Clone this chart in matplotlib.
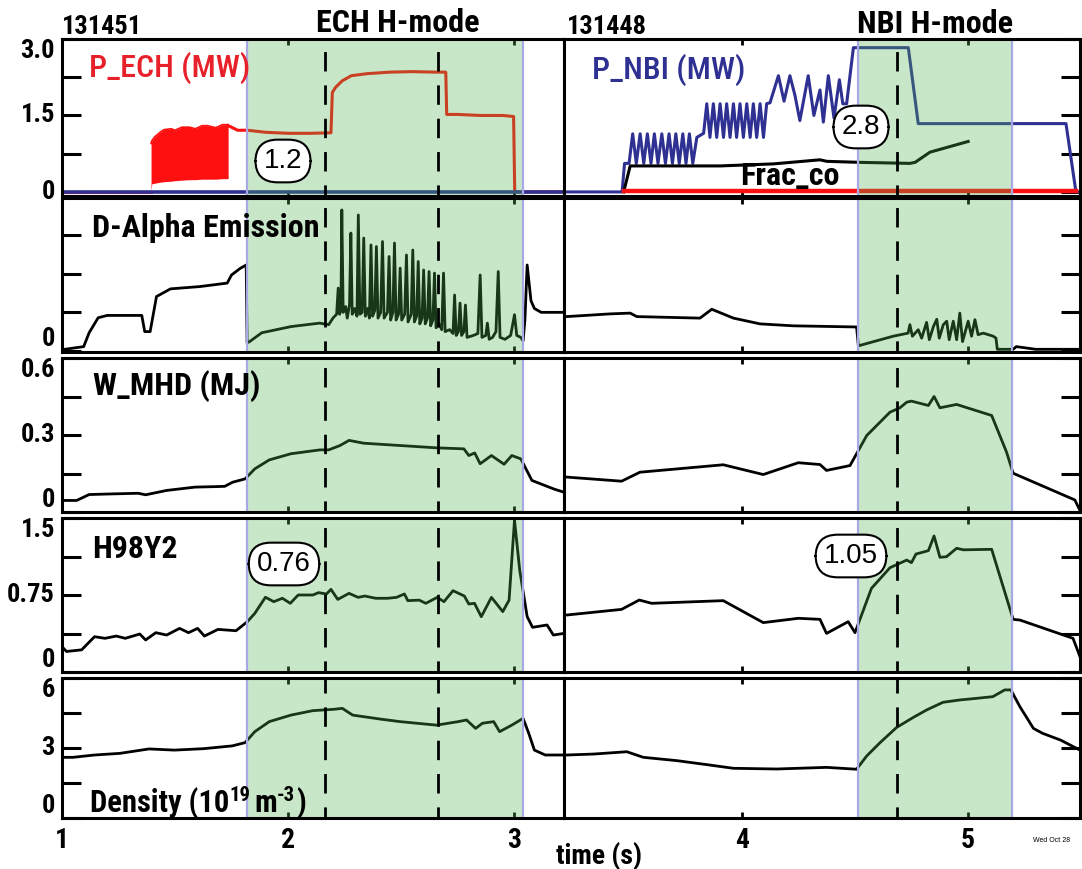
import matplotlib
matplotlib.use("Agg")
import matplotlib.pyplot as plt
from matplotlib.transforms import blended_transform_factory

W, H = 1082, 869
NARROW = ["Liberation Sans Narrow", "Roboto Condensed", "Archivo Narrow", "PT Sans Narrow",
          "Liberation Sans"]
PLAIN = ["Liberation Sans", "DejaVu Sans"]

RED = "#ff1010"
NAVY = "#2e3192"
SHADE = (80 / 255, 175 / 255, 80 / 255)
SHADE_EDGE = "#a9a9e6"

# time windows (s) for the two shots
XLIM_L = (1.0, 3.221)
XLIM_R = (3.212, 5.496)
HMODE_L = (1.819, 3.040)
HMODE_R = (4.513, 5.195)
DASH_L = [2.164, 2.664]
DASH_R = [4.686]

# ---- shot 131451 (ECH) ----
ech_off_t = [1.000, 1.394]
ech_off_v = [0.0, 0.0]
ech_mod_t = [1.394, 1.397, 1.410, 1.434, 1.450, 1.483, 1.500, 1.530, 1.563, 1.590, 1.620, 1.644, 1.680, 1.710, 1.735]
ech_mod_hi = [0.95, 1.00, 1.08, 1.17, 1.22, 1.24, 1.21, 1.27, 1.27, 1.24, 1.30, 1.30, 1.26, 1.32, 1.32]
ech_mod_lo = [0.00, 0.16, 0.17, 0.19, 0.20, 0.21, 0.22, 0.23, 0.24, 0.24, 0.25, 0.25, 0.25, 0.26, 0.26]
ech_t = [1.735, 1.745, 1.777, 1.820, 1.900, 2.000, 2.100, 2.190, 2.196, 2.210, 2.240, 2.280, 2.350,
         2.450, 2.550, 2.650, 2.698, 2.702, 2.750, 2.850, 2.950, 2.998, 3.003, 3.221]
ech_v = [1.30, 1.28, 1.21, 1.21, 1.17, 1.15, 1.15, 1.16, 1.95, 2.05, 2.18, 2.28, 2.32,
         2.35, 2.36, 2.35, 2.35, 1.52, 1.52, 1.50, 1.50, 1.48, 0.0, 0.0]
nbi_l_t = [1.000, 3.221]
nbi_l_v = [0.0, 0.0]

dalpha_l_t = [1.000, 1.096, 1.120, 1.160, 1.200, 1.353, 1.366, 1.390, 1.418, 1.480, 1.611, 1.731,
              1.750, 1.788, 1.815, 1.819, 1.830, 1.884, 2.013, 2.140, 2.180, 2.200,
              2.215, 2.222, 2.228, 2.234, 2.238, 2.244, 2.255, 2.262, 2.272, 2.278, 2.284,
              2.295, 2.305, 2.311, 2.318, 2.328, 2.335, 2.342, 2.352, 2.360, 2.367, 2.374,
              2.384, 2.391, 2.398, 2.410, 2.418, 2.425, 2.440, 2.447, 2.454, 2.464, 2.471,
              2.478, 2.489, 2.496, 2.503, 2.516, 2.524, 2.531, 2.545, 2.552, 2.559, 2.569,
              2.576, 2.583, 2.593, 2.600, 2.607, 2.617, 2.624, 2.631, 2.641, 2.648, 2.655,
              2.668, 2.680, 2.688, 2.695, 2.715, 2.730, 2.737, 2.744, 2.754, 2.761, 2.768,
              2.778, 2.785, 2.792, 2.820, 2.840, 2.850, 2.858, 2.875, 2.882, 2.890, 2.905,
              2.920, 2.930, 2.938, 2.960, 2.985, 3.002, 3.012, 3.030, 3.040, 3.048, 3.058,
              3.075, 3.090, 3.120, 3.221]
dalpha_l_v = [0.03, 0.11, 0.47, 0.86, 0.92, 0.92, 0.50, 0.50, 1.41, 1.61, 1.67, 1.76,
              1.97, 2.14, 2.23, 0.21, 0.24, 0.47, 0.63, 0.72, 0.68, 0.86,
              0.95, 1.63, 0.95, 1.05, 3.66, 1.00, 1.15, 0.85, 1.20, 3.06, 0.95,
              1.10, 0.90, 3.53, 0.95, 1.00, 2.93, 0.90, 1.10, 0.85, 2.75, 0.90,
              1.05, 2.71, 0.85, 1.00, 2.84, 0.85, 1.00, 2.45, 0.80, 1.00, 2.80,
              0.80, 0.95, 2.15, 0.80, 0.95, 2.49, 0.75, 0.95, 2.62, 0.75, 0.90,
              2.32, 0.70, 0.85, 2.10, 0.70, 0.85, 2.06, 0.65, 0.80, 2.02, 0.60,
              0.70, 0.55, 2.02, 0.50, 0.55, 0.45, 1.45, 0.40, 0.50, 1.24, 0.40,
              0.50, 1.19, 0.35, 0.40, 0.45, 1.97, 0.35, 0.40, 0.72, 0.30, 0.35,
              0.50, 2.06, 0.35, 0.30, 0.40, 0.94, 0.40, 0.35, 0.26, 0.80, 2.23,
              1.30, 1.10, 1.00, 1.00]

wmhd_l_t = [1.000, 1.065, 1.120, 1.200, 1.337, 1.370, 1.463, 1.589, 1.686, 1.720, 1.755, 1.810,
            1.853, 1.917, 2.013, 2.141, 2.180, 2.230, 2.270, 2.335, 2.496, 2.657, 2.778, 2.800,
            2.826, 2.850, 2.900, 2.956, 2.990, 3.030, 3.079, 3.175, 3.221]
wmhd_l_v = [0.045, 0.045, 0.068, 0.070, 0.073, 0.067, 0.084, 0.097, 0.099, 0.100, 0.116, 0.129,
            0.168, 0.203, 0.227, 0.242, 0.242, 0.259, 0.279, 0.268, 0.259, 0.250, 0.246, 0.220,
            0.230, 0.188, 0.220, 0.186, 0.220, 0.207, 0.123, 0.090, 0.077]

h98_l_t = [1.000, 1.020, 1.087, 1.144, 1.190, 1.240, 1.280, 1.344, 1.370, 1.415, 1.463, 1.520,
           1.560, 1.600, 1.630, 1.690, 1.770, 1.820, 1.853, 1.900, 1.937, 1.975, 2.010, 2.045,
           2.110, 2.135, 2.170, 2.190, 2.220, 2.270, 2.310, 2.340, 2.388, 2.440, 2.480, 2.515,
           2.530, 2.580, 2.610, 2.660, 2.690, 2.730, 2.780, 2.800, 2.825, 2.855, 2.900, 2.950,
           2.978, 3.002, 3.025, 3.058, 3.082, 3.146, 3.174, 3.221]
h98_l_v = [0.246, 0.200, 0.216, 0.344, 0.328, 0.350, 0.328, 0.370, 0.312, 0.383, 0.360, 0.425,
           0.383, 0.425, 0.350, 0.415, 0.402, 0.490, 0.571, 0.728, 0.685, 0.718, 0.669, 0.750,
           0.750, 0.773, 0.760, 0.805, 0.707, 0.766, 0.727, 0.740, 0.718, 0.718, 0.727, 0.760,
           0.695, 0.700, 0.669, 0.727, 0.685, 0.792, 0.740, 0.662, 0.669, 0.539, 0.727, 0.588,
           0.700, 1.480, 0.993, 0.539, 0.435, 0.458, 0.360, 0.376]

dens_l_t = [1.000, 1.048, 1.144, 1.256, 1.385, 1.497, 1.625, 1.753, 1.810, 1.853, 1.917, 2.013,
            2.109, 2.205, 2.240, 2.286, 2.415, 2.496, 2.657, 2.753, 2.790, 2.830, 2.860, 2.910,
            2.936, 2.990, 3.040, 3.065, 3.090, 3.138, 3.221]
dens_l_v = [2.60, 2.60, 2.70, 2.77, 2.96, 2.91, 2.97, 3.09, 3.23, 3.70, 4.13, 4.41,
            4.60, 4.66, 4.70, 4.41, 4.23, 4.13, 3.98, 4.13, 4.20, 3.84, 4.06, 4.13,
            3.70, 3.98, 4.27, 3.63, 2.91, 2.70, 2.70]

# ---- shot 131448 (NBI) ----
ech_r_t = [3.476, 5.478]
ech_r_v = [0.02, 0.02]
nbi_r_t = [3.212, 3.469, 3.480, 3.500, 3.516, 3.532, 3.549, 3.565, 3.581, 3.597, 3.612, 3.628,
           3.645, 3.661, 3.677, 3.692, 3.707, 3.722, 3.738, 3.752, 3.767, 3.782, 3.800, 3.830,
           3.844, 3.858, 3.873, 3.888, 3.903, 3.918, 3.932, 3.947, 3.962, 3.976, 3.991, 4.006,
           4.021, 4.036, 4.050, 4.065, 4.080, 4.095, 4.109, 4.124, 4.161, 4.186, 4.212, 4.234,
           4.256, 4.293, 4.318, 4.345, 4.360, 4.382, 4.407, 4.431, 4.446, 4.463, 4.470, 4.493,
           4.736, 4.780, 5.434, 5.478, 5.496]
nbi_r_v = [0.0, 0.0, 0.56, 0.56, 1.14, 0.56, 1.14, 0.56, 1.14, 0.56, 1.14, 0.56,
           1.14, 0.56, 1.14, 0.56, 1.14, 0.56, 1.14, 0.56, 1.14, 0.56, 1.07, 1.15,
           1.73, 1.07, 1.73, 1.07, 1.73, 1.07, 1.73, 1.07, 1.73, 1.07, 1.73, 1.07,
           1.73, 1.07, 1.73, 1.07, 1.73, 1.07, 1.73, 1.75, 2.28, 1.78, 2.28, 1.90,
           1.40, 2.28, 1.50, 2.00, 1.37, 2.28, 1.45, 2.20, 1.73, 1.73, 1.99, 2.83,
           2.83, 1.34, 1.34, 0.0, 0.0]
frac_t = [3.476, 3.505, 3.903, 4.139, 4.345, 4.375, 4.522, 4.743, 4.766, 4.832, 5.001]
frac_v = [0.0, 0.51, 0.51, 0.55, 0.63, 0.60, 0.58, 0.56, 0.58, 0.78, 0.99]

dalpha_r_t = [3.212, 3.224, 3.416, 3.505, 3.534, 3.814, 3.866, 3.962, 4.080, 4.227, 4.507, 4.515,
              4.669, 4.735, 4.743, 4.754, 4.780, 4.795, 4.817, 4.829, 4.847, 4.862, 4.873, 4.891,
              4.906, 4.917, 4.935, 4.950, 4.964, 4.976, 5.001, 5.016, 5.031, 5.045, 5.068, 5.112,
              5.124, 5.130, 5.200, 5.214, 5.300, 5.496]
dalpha_r_v = [0.89, 0.89, 0.96, 0.98, 0.89, 0.85, 1.08, 0.85, 0.70, 0.65, 0.62, 0.13,
              0.38, 0.46, 0.68, 0.38, 0.55, 0.33, 0.74, 0.29, 0.63, 0.82, 0.33, 0.68,
              0.77, 0.29, 0.77, 0.29, 0.98, 0.24, 0.77, 0.38, 0.81, 0.42, 0.46, 0.38,
              0.33, 0.04, 0.04, 0.11, 0.04, 0.04]

wmhd_r_t = [3.212, 3.224, 3.467, 3.548, 3.917, 4.094, 4.249, 4.345, 4.374, 4.478, 4.552, 4.655,
            4.699, 4.729, 4.750, 4.825, 4.850, 4.876, 4.950, 5.105, 5.171, 5.200, 5.473, 5.496]
wmhd_r_v = [0.136, 0.136, 0.120, 0.155, 0.184, 0.146, 0.192, 0.185, 0.162, 0.181, 0.298, 0.389,
            0.406, 0.428, 0.432, 0.415, 0.450, 0.406, 0.419, 0.376, 0.233, 0.151, 0.047, 0.006]

h98_r_t = [3.212, 3.224, 3.467, 3.545, 3.600, 3.917, 4.094, 4.249, 4.345, 4.374, 4.470, 4.500,
           4.573, 4.655, 4.729, 4.750, 4.770, 4.825, 4.850, 4.876, 4.905, 4.950, 4.980, 5.105,
           5.200, 5.230, 5.465, 5.496]
h98_r_v = [0.555, 0.555, 0.610, 0.701, 0.669, 0.695, 0.481, 0.523, 0.513, 0.376, 0.490, 0.383,
           0.815, 1.016, 1.090, 1.065, 1.149, 1.182, 1.325, 1.117, 1.123, 1.205, 1.190, 1.195,
           0.513, 0.506, 0.328, 0.149]

dens_r_t = [3.212, 3.224, 3.342, 3.490, 3.563, 3.710, 3.857, 3.962, 4.153, 4.374, 4.507, 4.552,
            4.611, 4.684, 4.758, 4.817, 4.890, 4.965, 5.040, 5.110, 5.163, 5.190, 5.230, 5.290,
            5.330, 5.410, 5.496]
dens_r_v = [2.70, 2.70, 2.74, 2.84, 2.60, 2.46, 2.27, 2.13, 2.10, 2.17, 2.09, 2.66,
            3.23, 3.88, 4.31, 4.63, 4.96, 5.06, 5.13, 5.20, 5.49, 5.49, 4.77, 3.84,
            3.63, 3.34, 2.91]

# ---- panel layout (pixel rows) and y axes ----
ROWS = [(39, 196), (198, 352), (358, 512), (518, 672), (678, 818)]
YLIMS = [(-0.08, 3.0), (-0.03, 3.97), (0.0, 0.6), (0.0, 1.5), (0.0, 6.0)]
YTICKS = [[0, 0.75, 1.5, 2.25, 3.0], [0, 1, 2, 3], [0, 0.15, 0.3, 0.45, 0.6],
          [0, 0.375, 0.75, 1.125, 1.5], [0, 1.5, 3, 4.5, 6]]
YTICKLABELS = [[(0, "0"), (1.5, "1.5"), (3.0, "3.0")], [(0, "0")],
               [(0, "0"), (0.3, "0.3"), (0.6, "0.6")],
               [(0, "0"), (0.75, "0.75"), (1.5, "1.5")],
               [(0, "0"), (3, "3"), (6, "6")]]

COL_L = (62, 564)
COL_R = (564, 1080)


def add_px_axes(fig, x0, x1, y0, y1):
    return fig.add_axes([x0 / W, 1 - y1 / H, (x1 - x0) / W, (y1 - y0) / H])


def fig_text(fig, x, y, s, **kw):
    return fig.text(x / W, 1 - y / H, s, **kw)


def style_axes(ax, xlim, ylim, yticks, xticks, side):
    ax.set_xlim(xlim)
    ax.set_ylim(ylim)
    ax.set_yticks(yticks)
    ax.set_xticks(xticks)
    ax.tick_params(axis="y", direction="in", length=14, width=2.2,
                   left=(side == "left"), right=(side == "right"),
                   labelleft=False, labelright=False)
    ax.tick_params(axis="x", direction="in", length=4, width=2,
                   top=True, bottom=True, labelbottom=False)
    for s in ax.spines.values():
        s.set_linewidth(2.2)
        s.set_zorder(6)


def shade(ax, span, dashes):
    ax.axvspan(span[0], span[1], color=SHADE, alpha=0.31, lw=0, zorder=3)
    for edge in span:
        ax.axvline(edge, color=SHADE_EDGE, lw=1.6, zorder=3.5)
    for t in dashes:
        ax.axvline(t, color="black", lw=2.0, ls=(3, (7, 5)), zorder=4)


def ytick_text(ax, labels, ylim, width_px):
    tr = blended_transform_factory(ax.transAxes, ax.transData)
    for v, s in labels:
        frac = (v - ylim[0]) / (ylim[1] - ylim[0])
        va = "top" if frac > 0.98 else ("bottom" if frac < 0.02 else "center")
        ax.text(-7 / width_px, v, s, transform=tr, ha="right", va=va,
                fontsize=19, fontweight="bold", family=NARROW)


fig = plt.figure(figsize=(W / 100, H / 100), dpi=100)

axes_l, axes_r = [], []
for i, (top, bot) in enumerate(ROWS):
    al = add_px_axes(fig, COL_L[0], COL_L[1], top, bot)
    ar = add_px_axes(fig, COL_R[0], COL_R[1], top, bot)
    style_axes(al, XLIM_L, YLIMS[i], YTICKS[i], [2, 3], "left")
    style_axes(ar, XLIM_R, YLIMS[i], YTICKS[i], [4, 5], "right")
    ytick_text(al, YTICKLABELS[i], YLIMS[i], COL_L[1] - COL_L[0])
    shade(al, HMODE_L, DASH_L)
    shade(ar, HMODE_R, DASH_R)
    axes_l.append(al)
    axes_r.append(ar)

LW = 2.0

# Row 1: heating powers
ax = axes_l[0]
ax.plot(ech_off_t, ech_off_v, color=RED, lw=2.2, zorder=2)
ax.fill_between(ech_mod_t, ech_mod_lo, ech_mod_hi, color=RED, lw=0, zorder=2)
ax.plot(ech_mod_t, ech_mod_hi, color=RED, lw=1.2, zorder=2)
ax.plot(ech_t, ech_v, color=RED, lw=2.2, zorder=2)
ax.plot(nbi_l_t, nbi_l_v, color=NAVY, lw=2.6, zorder=2.2)
ax = axes_r[0]
ax.plot(nbi_r_t, nbi_r_v, color=NAVY, lw=2.2, zorder=2)
ax.plot(frac_t, frac_v, color="black", lw=2.2, zorder=2.1)
ax.plot(ech_r_t, ech_r_v, color=RED, lw=3.2, zorder=2.2)

# Rows 2-5: plasma response
for ax, t, v in [(axes_l[1], dalpha_l_t, dalpha_l_v), (axes_r[1], dalpha_r_t, dalpha_r_v),
                 (axes_l[2], wmhd_l_t, wmhd_l_v), (axes_r[2], wmhd_r_t, wmhd_r_v),
                 (axes_l[3], h98_l_t, h98_l_v), (axes_r[3], h98_r_t, h98_r_v),
                 (axes_l[4], dens_l_t, dens_l_v), (axes_r[4], dens_r_t, dens_r_v)]:
    ax.plot(t, v, color="black", lw=LW, zorder=2)

# panel titles
lab = dict(fontsize=23, family=NARROW, ha="left", va="baseline")
fig_text(fig, 89, 77, "P_ECH (MW)", color="#e8202a", fontweight="medium", **lab)
fig_text(fig, 592, 79, "P_NBI (MW)", color=NAVY, fontweight="medium", **lab)
fig_text(fig, 740, 185, "Frac_co", fontweight="bold", **lab)
fig_text(fig, 92, 237, "D-Alpha Emission", fontweight="bold", **lab)
fig_text(fig, 93, 395, "W_MHD (MJ)", fontweight="bold", **lab)
fig_text(fig, 92, 558, "H98Y2", fontweight="bold", **lab)

# density label with superscripts, laid out piece by piece
renderer = fig.canvas.get_renderer()
x = 90
for s, size, rise, gap in [("Density (10", 22, 0, 0), ("19", 15, 11, 0),
                           ("m", 22, 0, 4), ("-3", 15, 11, 0), (")", 22, 0, 1)]:
    x += gap
    t = fig_text(fig, x, 812 - rise, s, fontsize=size, fontweight="bold",
                 family=NARROW, ha="left", va="baseline")
    x += t.get_window_extent(renderer).width

# boxed values
box = dict(boxstyle="round,pad=0.3,rounding_size=0.8", fc="white", ec="black", lw=1.5)
for x, y, s in [(283, 161, "1.2"), (861, 127, "2.8"), (284, 564, "0.76"), (851, 556, "1.05")]:
    fig_text(fig, x, y, s, fontsize=20, family=PLAIN, ha="center", va="center",
             bbox=box, zorder=10)

# header
head = dict(fontweight="bold", family=NARROW, va="baseline")
fig_text(fig, 62, 34, "131451", fontsize=19, ha="left", **head)
fig_text(fig, 567, 34, "131448", fontsize=19, ha="left", **head)
fig_text(fig, 398, 32, "ECH H-mode", fontsize=23, ha="center", **head)
fig_text(fig, 935, 33, "NBI H-mode", fontsize=23, ha="center", **head)

# time axis labels
for ax, ticks in [(axes_l[4], [1, 2, 3]), (axes_r[4], [4, 5])]:
    tr = blended_transform_factory(ax.transData, ax.transAxes)
    for t in ticks:
        ax.text(t, -22 / 140, str(t), transform=tr, ha="center", va="center",
                fontsize=20, fontweight="bold", family=NARROW)
fig_text(fig, 556, 856, "time (s)", fontsize=20, fontweight="bold", family=NARROW,
         ha="left", va="center")
fig_text(fig, 1033, 840, "Wed Oct 28", fontsize=5, family=PLAIN, ha="left", va="center")

fig.savefig("out.png", dpi=100)
